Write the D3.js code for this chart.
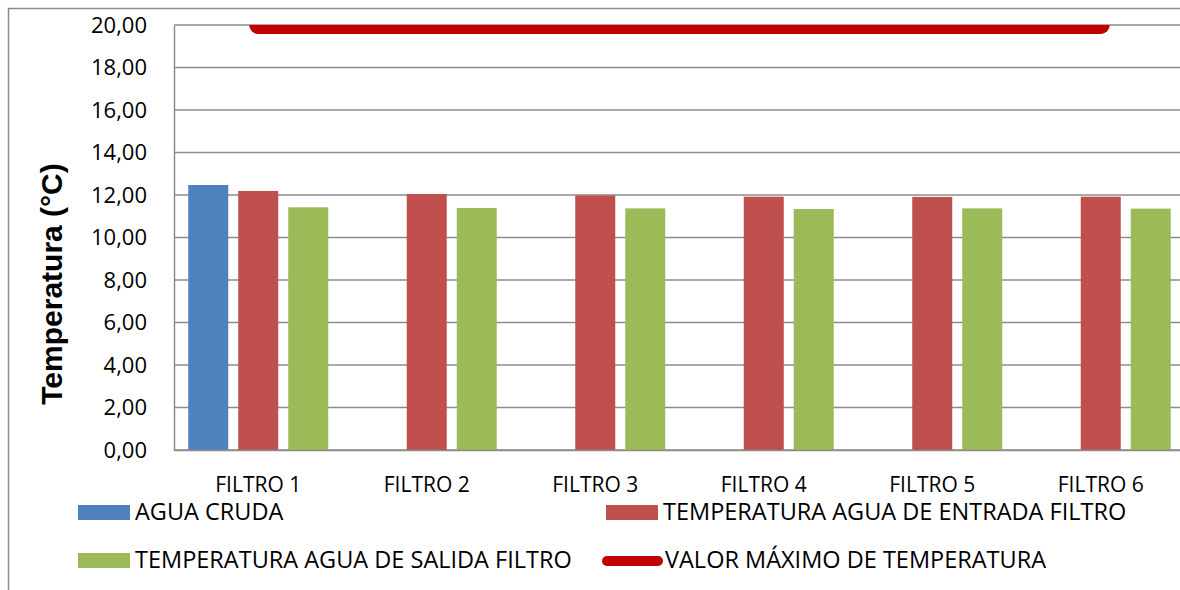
<!DOCTYPE html>
<html>
<head>
<meta charset="utf-8">
<script src="https://cdn.jsdelivr.net/npm/d3@7"></script>
<style>
    body { margin: 0; background: #fff; }
    svg { display: block; font-family: "Open Sans", Lato, sans-serif; }
</style>
</head>
<body>
<div id="chart"></div>
<script>
// chart data
let categories = ["FILTRO 1", "FILTRO 2", "FILTRO 3", "FILTRO 4", "FILTRO 5", "FILTRO 6"];
let aguaCruda = [12.47, null, null, null, null, null];
let tempEntrada = [12.19, 12.05, 11.98, 11.92, 11.91, 11.92];
let tempSalida = [11.42, 11.39, 11.37, 11.34, 11.37, 11.36];
let valorMaximo = [20, 20, 20, 20, 20, 20];
let yTicks = [0, 2, 4, 6, 8, 10, 12, 14, 16, 18, 20];

let barSeries = [
    { name: "AGUA CRUDA", values: aguaCruda, color: "#4F81BD" },
    { name: "TEMPERATURA AGUA DE ENTRADA FILTRO", values: tempEntrada, color: "#C0504D" },
    { name: "TEMPERATURA AGUA DE SALIDA FILTRO", values: tempSalida, color: "#9BBB59" }
];

let width = 1180, height = 590;
let plot = { left: 174, right: 1185, top: 25, bottom: 450 };

let svg = d3.select("#chart").append("svg")
    .attr("width", width)
    .attr("height", height);

// outer chart border
svg.append("rect")
    .attr("x", 8.5).attr("y", 8.5)
    .attr("width", 1200).attr("height", 620)
    .attr("fill", "none")
    .attr("stroke", "#8c8c8c")
    .attr("stroke-width", 1.5);

let x = d3.scaleBand()
    .domain(categories)
    .range([plot.left, plot.right]);

let x1 = d3.scaleBand()
    .domain(barSeries.map(d => d.name))
    .range([14.25, 154.25])
    .paddingInner(0.2);

let y = d3.scaleLinear()
    .domain([0, 20])
    .range([plot.bottom, plot.top]);

let fmt = v => d3.format(".2f")(v).replace(".", ",");

// gridlines
svg.append("g")
    .selectAll("line")
    .data(yTicks)
    .enter().append("line")
    .attr("x1", plot.left).attr("x2", plot.right)
    .attr("y1", d => y(d)).attr("y2", d => y(d))
    .attr("stroke", "#8c8c8c")
    .attr("stroke-width", 1.5);

// y axis
let yAxis = svg.append("g")
    .attr("transform", "translate(" + plot.left + ",0)")
    .call(d3.axisLeft(y).tickValues(yTicks).tickFormat(fmt).tickSize(0).tickPadding(27));
yAxis.select(".domain").attr("stroke", "#8c8c8c").attr("stroke-width", 1.5);
yAxis.selectAll("text")
    .attr("font-size", 22)
    .attr("fill", "#000")
    .attr("font-family", "'Open Sans', Lato, sans-serif");

// bars
let groups = svg.append("g")
    .selectAll("g")
    .data(barSeries)
    .enter().append("g")
    .attr("fill", d => d.color);

groups.selectAll("rect")
    .data(s => s.values.map((v, i) => ({ name: s.name, cat: categories[i], v: v })).filter(d => d.v != null))
    .enter().append("rect")
    .attr("x", d => x(d.cat) + x1(d.name))
    .attr("width", x1.bandwidth())
    .attr("y", d => y(d.v))
    .attr("height", d => y(0) - y(d.v));

// bottom axis
let xAxis = svg.append("g")
    .attr("transform", "translate(0," + plot.bottom + ")")
    .call(d3.axisBottom(x).tickSize(0).tickPadding(27));
xAxis.select(".domain").attr("stroke", "#8c8c8c").attr("stroke-width", 1.5);
xAxis.selectAll("text")
    .attr("font-size", 21)
    .attr("fill", "#000")
    .attr("font-family", "'Open Sans', Lato, sans-serif");

// max temperature line, clipped to plot area
svg.append("clipPath").attr("id", "plot-clip")
    .append("rect")
    .attr("x", plot.left).attr("y", plot.top)
    .attr("width", plot.right - plot.left).attr("height", plot.bottom - plot.top);

let line = d3.line()
    .x((d, i) => x(categories[i]) + x.bandwidth() / 2)
    .y(d => y(d));

svg.append("path")
    .datum(valorMaximo)
    .attr("clip-path", "url(#plot-clip)")
    .attr("d", line)
    .attr("fill", "none")
    .attr("stroke", "#C00000")
    .attr("stroke-width", 18)
    .attr("stroke-linecap", "round");

// y axis title
svg.append("text")
    .attr("transform", "translate(62,284) rotate(-90)")
    .attr("text-anchor", "middle")
    .attr("font-family", "'Liberation Sans', Arial, sans-serif")
    .attr("font-size", 30)
    .attr("font-weight", "bold")
    .text("Temperatura (°C)");

// legend
let legendItems = [
    { name: barSeries[0].name, color: barSeries[0].color, type: "rect", x: 78, y: 520 },
    { name: barSeries[1].name, color: barSeries[1].color, type: "rect", x: 606, y: 520 },
    { name: barSeries[2].name, color: barSeries[2].color, type: "rect", x: 78, y: 568 },
    { name: "VALOR MÁXIMO DE TEMPERATURA", color: "#C00000", type: "line", x: 602, y: 568 }
];

let legend = svg.append("g")
    .selectAll("g")
    .data(legendItems)
    .enter().append("g")
    .attr("transform", d => "translate(" + d.x + "," + d.y + ")");

legend.filter(d => d.type === "rect").append("rect")
    .attr("x", 0).attr("y", -15)
    .attr("width", 52).attr("height", 15)
    .attr("fill", d => d.color);

legend.filter(d => d.type === "line").append("line")
    .attr("x1", 5).attr("x2", 56)
    .attr("y1", -7).attr("y2", -7)
    .attr("stroke", d => d.color)
    .attr("stroke-width", 10)
    .attr("stroke-linecap", "round");

legend.append("text")
    .attr("x", d => d.type === "line" ? 63 : 57)
    .attr("font-size", 23.5)
    .text(d => d.name);
</script>
</body>
</html>
